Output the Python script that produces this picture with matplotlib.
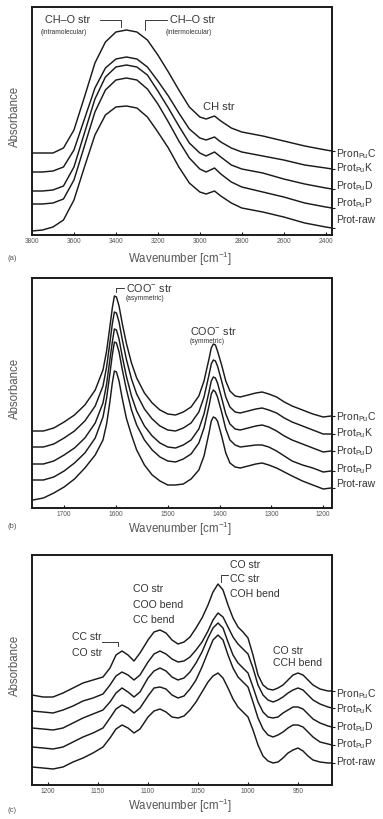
import matplotlib
matplotlib.use("Agg")
import matplotlib.pyplot as plt

plt.rcParams['font.family'] = ['Liberation Sans', 'DejaVu Sans']
plt.rcParams['mathtext.fontset'] = 'custom'
plt.rcParams['mathtext.rm'] = 'Liberation Sans'

W, H = 383, 819

# ---------------- data ----------------
series_names = ["Pron$_{\\mathregular{Pu}}$C", "Prot$_{\\mathregular{Pu}}$K",
                "Prot$_{\\mathregular{Pu}}$D", "Prot$_{\\mathregular{Pu}}$P", "Prot-raw"]

# panel (a) OH / CH stretching region
wn_a = [3800, 3750, 3700, 3650, 3600, 3550, 3500, 3450, 3400, 3350, 3300, 3250, 3200,
        3150, 3100, 3050, 3000, 2970, 2930, 2900, 2850, 2800, 2700, 2600, 2500, 2400, 2370]
a_pronc = [0.82, 0.82, 0.82, 0.87, 1.05, 1.38, 1.72, 1.93, 2.03, 2.05, 2.03, 1.95, 1.80,
           1.63, 1.45, 1.28, 1.18, 1.16, 1.19, 1.14, 1.07, 1.03, 0.99, 0.94, 0.89, 0.85, 0.84]
a_protk = [0.63, 0.63, 0.64, 0.68, 0.85, 1.16, 1.47, 1.67, 1.76, 1.78, 1.76, 1.68, 1.54,
           1.39, 1.22, 1.06, 0.97, 0.95, 0.98, 0.93, 0.87, 0.83, 0.79, 0.75, 0.70, 0.67, 0.66]
a_protd = [0.44, 0.44, 0.45, 0.49, 0.68, 1.02, 1.36, 1.58, 1.68, 1.70, 1.68, 1.60, 1.44,
           1.27, 1.09, 0.92, 0.82, 0.79, 0.83, 0.78, 0.70, 0.66, 0.62, 0.56, 0.51, 0.47, 0.46]
a_protp = [0.31, 0.31, 0.32, 0.36, 0.55, 0.89, 1.23, 1.45, 1.55, 1.57, 1.55, 1.46, 1.31,
           1.13, 0.94, 0.77, 0.66, 0.63, 0.67, 0.61, 0.53, 0.48, 0.43, 0.38, 0.32, 0.28, 0.27]
a_raw = [0.04, 0.05, 0.08, 0.15, 0.35, 0.68, 1.00, 1.20, 1.28, 1.29, 1.27, 1.18, 1.03,
         0.87, 0.68, 0.52, 0.43, 0.41, 0.44, 0.39, 0.32, 0.27, 0.23, 0.18, 0.12, 0.08, 0.07]

# panel (b) carboxylate region
wn_b = [1760, 1740, 1720, 1700, 1680, 1660, 1640, 1625, 1618, 1612, 1607, 1603, 1599, 1594,
        1588, 1580, 1570, 1560, 1545, 1530, 1515, 1500, 1485, 1470, 1455, 1440, 1430, 1420,
        1416, 1412, 1408, 1404, 1396, 1388, 1380, 1370, 1360, 1345, 1330, 1318, 1305, 1290,
        1275, 1260, 1240, 1220, 1200, 1185]
b_pronc = [0.77, 0.77, 0.80, 0.86, 0.93, 1.03, 1.18, 1.38, 1.57, 1.80, 2.00, 2.12, 2.11, 2.02,
           1.85, 1.65, 1.45, 1.30, 1.15, 1.05, 0.98, 0.94, 0.93, 0.96, 1.01, 1.12, 1.27, 1.50,
           1.60, 1.64, 1.63, 1.57, 1.43, 1.27, 1.17, 1.12, 1.11, 1.13, 1.15, 1.16, 1.14, 1.11,
           1.06, 1.02, 0.98, 0.94, 0.91, 0.92]
b_protk = [0.61, 0.61, 0.64, 0.70, 0.77, 0.87, 1.02, 1.22, 1.41, 1.64, 1.84, 1.96, 1.95, 1.86,
           1.69, 1.49, 1.29, 1.14, 0.99, 0.89, 0.82, 0.78, 0.77, 0.80, 0.85, 0.96, 1.11, 1.34,
           1.44, 1.48, 1.47, 1.42, 1.27, 1.11, 1.01, 0.96, 0.95, 0.97, 0.99, 1.00, 0.98, 0.95,
           0.90, 0.86, 0.82, 0.78, 0.74, 0.74]
b_protd = [0.44, 0.44, 0.47, 0.53, 0.60, 0.70, 0.85, 1.05, 1.24, 1.47, 1.66, 1.79, 1.78, 1.69,
           1.52, 1.32, 1.12, 0.97, 0.82, 0.72, 0.65, 0.61, 0.60, 0.63, 0.68, 0.79, 0.94, 1.17,
           1.27, 1.31, 1.30, 1.25, 1.10, 0.94, 0.84, 0.79, 0.78, 0.80, 0.82, 0.83, 0.81, 0.77,
           0.72, 0.68, 0.64, 0.60, 0.56, 0.57]
b_protp = [0.28, 0.28, 0.31, 0.37, 0.45, 0.55, 0.70, 0.91, 1.10, 1.33, 1.53, 1.66, 1.65, 1.56,
           1.39, 1.19, 0.98, 0.83, 0.68, 0.58, 0.51, 0.47, 0.46, 0.49, 0.54, 0.65, 0.80, 1.03,
           1.14, 1.18, 1.16, 1.11, 0.96, 0.79, 0.68, 0.63, 0.61, 0.62, 0.63, 0.63, 0.61, 0.57,
           0.52, 0.47, 0.43, 0.40, 0.36, 0.37]
b_raw = [0.08, 0.10, 0.15, 0.21, 0.29, 0.40, 0.53, 0.68, 0.84, 1.05, 1.25, 1.37, 1.36, 1.27,
         1.10, 0.90, 0.73, 0.58, 0.43, 0.33, 0.27, 0.23, 0.23, 0.24, 0.29, 0.38, 0.52, 0.76,
         0.87, 0.91, 0.90, 0.87, 0.72, 0.55, 0.45, 0.41, 0.40, 0.42, 0.44, 0.45, 0.43, 0.40,
         0.36, 0.32, 0.27, 0.23, 0.19, 0.20]

# panel (c) fingerprint region
wn_c = [1216, 1205, 1195, 1185, 1175, 1165, 1155, 1145, 1138, 1132, 1126, 1120, 1114, 1108,
        1100, 1094, 1088, 1082, 1076, 1070, 1064, 1058, 1052, 1046, 1040, 1035, 1030, 1025,
        1020, 1015, 1010, 1005, 1000, 995, 990, 985, 980, 975, 970, 965, 960, 955, 950, 945,
        940, 935, 928, 920, 916]
c_pronc = [0.90, 0.88, 0.88, 0.92, 0.97, 1.02, 1.05, 1.08, 1.17, 1.30, 1.34, 1.30, 1.24, 1.32,
           1.45, 1.53, 1.55, 1.52, 1.45, 1.41, 1.43, 1.48, 1.57, 1.67, 1.80, 1.93, 2.01, 1.95,
           1.80, 1.67, 1.58, 1.53, 1.47, 1.30, 1.10, 1.00, 0.96, 0.95, 0.97, 1.00, 1.05, 1.10,
           1.12, 1.10, 1.05, 1.00, 0.96, 0.94, 0.94]
c_protk = [0.74, 0.73, 0.72, 0.75, 0.79, 0.84, 0.87, 0.91, 1.00, 1.09, 1.13, 1.10, 1.05, 1.10,
           1.23, 1.31, 1.34, 1.31, 1.26, 1.23, 1.24, 1.28, 1.35, 1.43, 1.54, 1.65, 1.72, 1.68,
           1.58, 1.48, 1.41, 1.36, 1.31, 1.17, 1.00, 0.90, 0.85, 0.83, 0.85, 0.88, 0.92, 0.95,
           0.97, 0.95, 0.90, 0.85, 0.81, 0.78, 0.77]
c_protd = [0.57, 0.56, 0.55, 0.57, 0.62, 0.67, 0.71, 0.75, 0.83, 0.92, 0.97, 0.93, 0.88, 0.93,
           1.07, 1.14, 1.17, 1.14, 1.08, 1.05, 1.07, 1.13, 1.22, 1.33, 1.47, 1.57, 1.62, 1.57,
           1.43, 1.30, 1.22, 1.17, 1.12, 0.98, 0.83, 0.73, 0.68, 0.67, 0.68, 0.72, 0.75, 0.78,
           0.78, 0.76, 0.71, 0.66, 0.62, 0.59, 0.58]
c_protp = [0.38, 0.37, 0.36, 0.38, 0.43, 0.48, 0.52, 0.57, 0.67, 0.76, 0.80, 0.77, 0.72, 0.77,
           0.89, 0.97, 0.98, 0.96, 0.90, 0.87, 0.89, 0.96, 1.05, 1.18, 1.33, 1.45, 1.50, 1.45,
           1.30, 1.17, 1.08, 1.03, 0.98, 0.83, 0.67, 0.56, 0.50, 0.48, 0.50, 0.53, 0.57, 0.60,
           0.60, 0.58, 0.53, 0.48, 0.43, 0.41, 0.40]
c_raw = [0.18, 0.17, 0.16, 0.18, 0.23, 0.27, 0.32, 0.38, 0.47, 0.56, 0.60, 0.57, 0.52, 0.56,
         0.68, 0.74, 0.76, 0.73, 0.68, 0.67, 0.69, 0.75, 0.83, 0.93, 1.03, 1.09, 1.12, 1.07,
         0.97, 0.86, 0.78, 0.73, 0.68, 0.55, 0.40, 0.29, 0.24, 0.22, 0.23, 0.27, 0.32, 0.35,
         0.37, 0.34, 0.29, 0.25, 0.23, 0.22, 0.22]

ticks_a = [3800, 3600, 3400, 3200, 3000, 2800, 2600, 2400]
ticks_b = [1700, 1600, 1500, 1400, 1300, 1200]
ticks_c = [1200, 1150, 1100, 1050, 1000, 950]

# ---------------- layout ----------------
def fx(x):
    return x / W


def fy(y):
    return 1 - y / H


fig = plt.figure(figsize=(W / 100, H / 100), dpi=100)

INK = '#1a1a1a'
TXT = '#333333'
LIGHT = '#555555'


def make_axes(top, bottom):
    return fig.add_axes([fx(32), fy(bottom), fx(332) - fx(32), (bottom - top) / H])


def style(ax, xlim, ylim, ticks, ends):
    ax.set_xlim(*xlim)
    ax.set_ylim(*ylim)
    ax.set_xticks(ticks)
    ax.set_xticklabels([str(t) for t in ticks], fontsize=4.8, color=LIGHT)
    ax.tick_params(axis='x', direction='in', length=2.5, width=0.8, pad=2.5, color=INK)
    ax.yaxis.tick_right()
    ax.set_yticks(ends)
    ax.set_yticklabels([])
    ax.tick_params(axis='y', direction='out', length=2.5, width=0.8, color=INK)
    for s in ax.spines.values():
        s.set_linewidth(1.4)
        s.set_color(INK)


panels = [
    dict(top=7, bottom=235, xlim=(3800, 2370), ylim=(0, 2.28), ticks=ticks_a, wn=wn_a,
         curves=[a_pronc, a_protk, a_protd, a_protp, a_raw],
         label_y=[154, 168, 186, 203, 220], tag='(a)', tag_y=258, xl_y=259, yl_y=116),
    dict(top=278, bottom=508, xlim=(1762, 1183), ylim=(0, 2.30), ticks=ticks_b, wn=wn_b,
         curves=[b_pronc, b_protk, b_protd, b_protp, b_raw],
         label_y=[417, 433, 451, 469, 484], tag='(b)', tag_y=527, xl_y=529, yl_y=388),
    dict(top=555, bottom=785, xlim=(1216, 916), ylim=(0, 2.30), ticks=ticks_c, wn=wn_c,
         curves=[c_pronc, c_protk, c_protd, c_protp, c_raw],
         label_y=[694, 709, 727, 744, 762], tag='(c)', tag_y=811, xl_y=806, yl_y=665),
]

axes = []
for p in panels:
    ax = make_axes(p['top'], p['bottom'])
    for c in p['curves']:
        ax.plot(p['wn'], c, color=INK, lw=1.05, solid_joinstyle='round',
                solid_capstyle='round')
    style(ax, p['xlim'], p['ylim'], p['ticks'], [c[-1] for c in p['curves']])
    axes.append(ax)
    for name, ly in zip(series_names, p['label_y']):
        fig.text(fx(336), fy(ly), name, fontsize=7.5, color=TXT, va='center', ha='left')
    fig.text(fx(8), fy(p['tag_y']), p['tag'], fontsize=5.5, color=LIGHT, va='center',
             ha='left')
    fig.text(fx(180), fy(p['xl_y']), 'Wavenumber [cm$^{-1}$]', fontsize=8.3, color=LIGHT,
             va='center', ha='center')
    fig.text(fx(15), fy(p['yl_y']), 'Absorbance', fontsize=8.3, color=LIGHT, rotation=90,
             va='center', ha='center')

# ---------------- annotations (figure pixel coordinates) ----------------
def txt(x, y, s, size, ha='left'):
    fig.text(fx(x), fy(y), s, fontsize=size, color=TXT, va='center', ha=ha)


def bracket(pts):
    fig.add_artist(plt.Line2D([fx(x) for x, _ in pts], [fy(y) for _, y in pts],
                              color=INK, lw=0.6))


# (a)
txt(45, 20, 'CH–O str', 7.8)
txt(41, 33, '(intramolecular)', 4.8)
bracket([(100, 20), (121, 20), (121, 27)])
txt(170, 20, 'CH–O str', 7.8)
txt(166, 33, '(intermolecular)', 4.8)
bracket([(145, 30), (145, 20), (167, 20)])
txt(203, 107, 'CH str', 8)

# (b)
txt(126, 288, 'COO$^{-}$ str', 7.8)
txt(126, 299, '(asymmetric)', 4.8)
bracket([(116, 292), (116, 288), (124, 288)])
txt(190, 331, 'COO$^{-}$ str', 7.8)
txt(190, 341, '(symmetric)', 4.8)

# (c)
fs_c = 7.6
txt(230, 565, 'CO str', fs_c)
txt(230, 579, 'CC str', fs_c)
txt(230, 594, 'COH bend', fs_c)
bracket([(221, 582), (221, 575), (228, 575)])
txt(133, 589, 'CO str', fs_c)
txt(133, 605, 'COO bend', fs_c)
txt(133, 620, 'CC bend', fs_c)
txt(72, 637, 'CC str', fs_c)
txt(72, 653, 'CO str', fs_c)
bracket([(102, 642), (118, 642), (118, 646)])
txt(273, 651, 'CO str', fs_c)
txt(273, 663, 'CCH bend', fs_c)

fig.savefig('out.png', dpi=100)
